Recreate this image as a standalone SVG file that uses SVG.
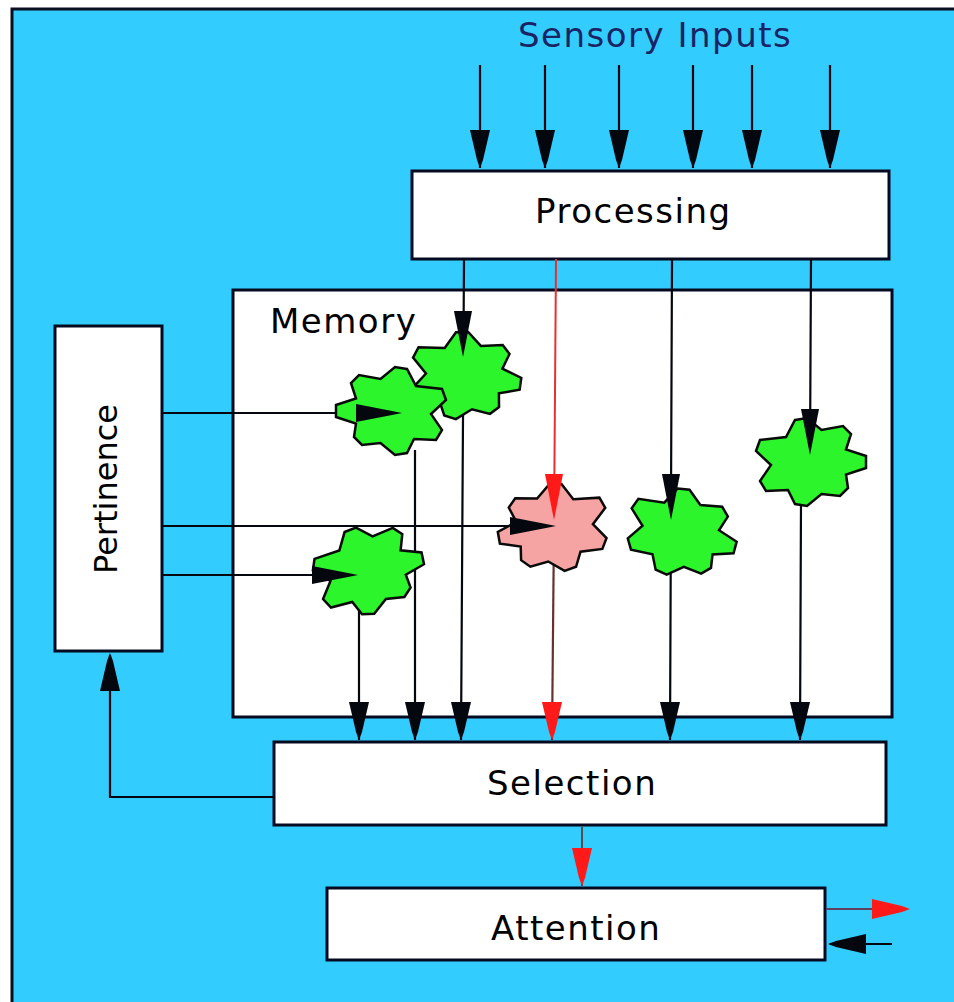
<svg xmlns="http://www.w3.org/2000/svg" width="954" height="1002" viewBox="0 0 954 1002">
<defs>
<style>
.box{fill:#fff;stroke:#060a20;stroke-width:3}
.lbl{font-family:"DejaVu Sans",Verdana,sans-serif;font-size:34px;letter-spacing:1.5px;fill:#000}
.ln{stroke:#05070f;stroke-width:2.2;fill:none}
.leaf{stroke:#0a0a0a;stroke-width:2.5;stroke-linejoin:miter}
.g{fill:#2cf52c}
.p{fill:#f5a3a3}
.dk{fill:#05070f}
.rd{fill:#ff1a1a}
</style>
<path id="hd" d="M-10,-38 L10,-38 L3,-8 L0,0 L-3,-8 Z"/>
<path id="hl" d="M-9,-46 L9,-46 L2,-10 L0,0 L-2,-10 Z"/>
<path id="leaf" d="M-15,-42 L-3,-44 L11.5,-32 L33,-36 L41,-28 L36,-12.5 L56,-6 L56,6 L36,12.5 L38,26 L30,34 L11.5,32 L-3,44 L-15,42 L-22,28 L-44,29 L-50,19 L-39,3 L-54,-11 L-50,-22 L-24,-25 Z"/>
</defs>
<rect x="0" y="0" width="954" height="1002" fill="#fff"/>
<rect x="12" y="9" width="942" height="993" fill="#33ccff"/>
<path d="M12,1002 V9 H954" stroke="#0a0f20" stroke-width="3" fill="none"/>

<g id="sensory-label">
<text class="lbl" x="518" y="47" style="fill:#1a2464">Sensory Inputs</text>
</g>

<g id="processing">
<rect class="box" x="412" y="171" width="477" height="88"/>
<text class="lbl" x="535" y="223">Processing</text>
</g>

<g id="memory">
<rect class="box" x="233" y="290" width="659" height="427"/>
<text class="lbl" x="270" y="333">Memory</text>
</g>

<g id="pertinence">
<rect class="box" x="55" y="326" width="107" height="325"/>
<text class="lbl" transform="translate(117,574) rotate(-90)" style="font-size:32px;letter-spacing:0">Pertinence</text>
</g>

<g id="selection">
<rect class="box" x="274" y="742" width="612" height="83"/>
<text class="lbl" x="487" y="795">Selection</text>
</g>

<g id="attention">
<rect class="box" x="327" y="888" width="498" height="72"/>
<text class="lbl" x="491" y="940">Attention</text>
</g>

<g id="connectors">
<path class="ln" d="M480,65 V168 M545,65 V168 M619,65 V168 M693,65 V168 M752,65 V168 M830,65 V168"/>
<g class="dk">
<use href="#hd" transform="translate(480,168)"/>
<use href="#hd" transform="translate(545,168)"/>
<use href="#hd" transform="translate(619,168)"/>
<use href="#hd" transform="translate(693,168)"/>
<use href="#hd" transform="translate(752,168)"/>
<use href="#hd" transform="translate(830,168)"/>
</g>
<path class="ln" d="M464,259 L461,740 M672,259 L670,740 M811,259 L810,455 L801,500 L800,740 M415,450 V740 M359,610 V740"/>
<path d="M556,259 L554,525" stroke="#e83030" stroke-width="2" fill="none"/>
<path d="M554,525 L552,740" stroke="#6a3030" stroke-width="2.2" fill="none"/>
<path class="ln" d="M162,413 H400 M162,526 H552 M162,575 H356"/>
<path class="ln" d="M274,797 H110 V655"/>
<path d="M582,826 V886" stroke="#505050" stroke-width="2" fill="none"/>
<path d="M826,909 H900" stroke="#604060" stroke-width="2" fill="none"/>
<path class="ln" d="M892,944 H830"/>
</g>

<g id="blob-b"><use href="#leaf" class="leaf g" transform="translate(465,376) rotate(8)"/></g>
<g id="blob-a"><use href="#leaf" class="leaf g" transform="translate(392,411) scale(-1,1)"/></g>
<g id="blob-c"><use href="#leaf" class="leaf g" transform="translate(368,570) rotate(-12)"/></g>
<g id="blob-d"><use href="#leaf" class="leaf p" transform="translate(554,528) scale(-1,1) rotate(10)"/></g>
<g id="blob-e"><use href="#leaf" class="leaf g" transform="translate(681,533) rotate(15)"/></g>
<g id="blob-f"><use href="#leaf" class="leaf g" transform="translate(810,462)"/></g>

<g id="arrowheads">
<g class="dk">
<use href="#hl" transform="translate(463,357)"/>
<use href="#hl" transform="translate(671,520)"/>
<use href="#hl" transform="translate(810,455)"/>
<use href="#hl" transform="translate(402,413) rotate(-90)"/>
<use href="#hl" transform="translate(556,526) rotate(-90)"/>
<use href="#hl" transform="translate(358,575) rotate(-90)"/>
<use href="#hd" transform="translate(359,740)"/>
<use href="#hd" transform="translate(415,740)"/>
<use href="#hd" transform="translate(461,740)"/>
<use href="#hd" transform="translate(670,740)"/>
<use href="#hd" transform="translate(800,740)"/>
<use href="#hd" transform="translate(110,653) rotate(180)"/>
<use href="#hd" transform="translate(828,944) rotate(90)"/>
</g>
<g class="rd">
<use href="#hl" transform="translate(554,520)"/>
<use href="#hd" transform="translate(552,740)"/>
<use href="#hd" transform="translate(582,886)"/>
<use href="#hd" transform="translate(910,909) rotate(-90)"/>
</g>
</g>
</svg>
